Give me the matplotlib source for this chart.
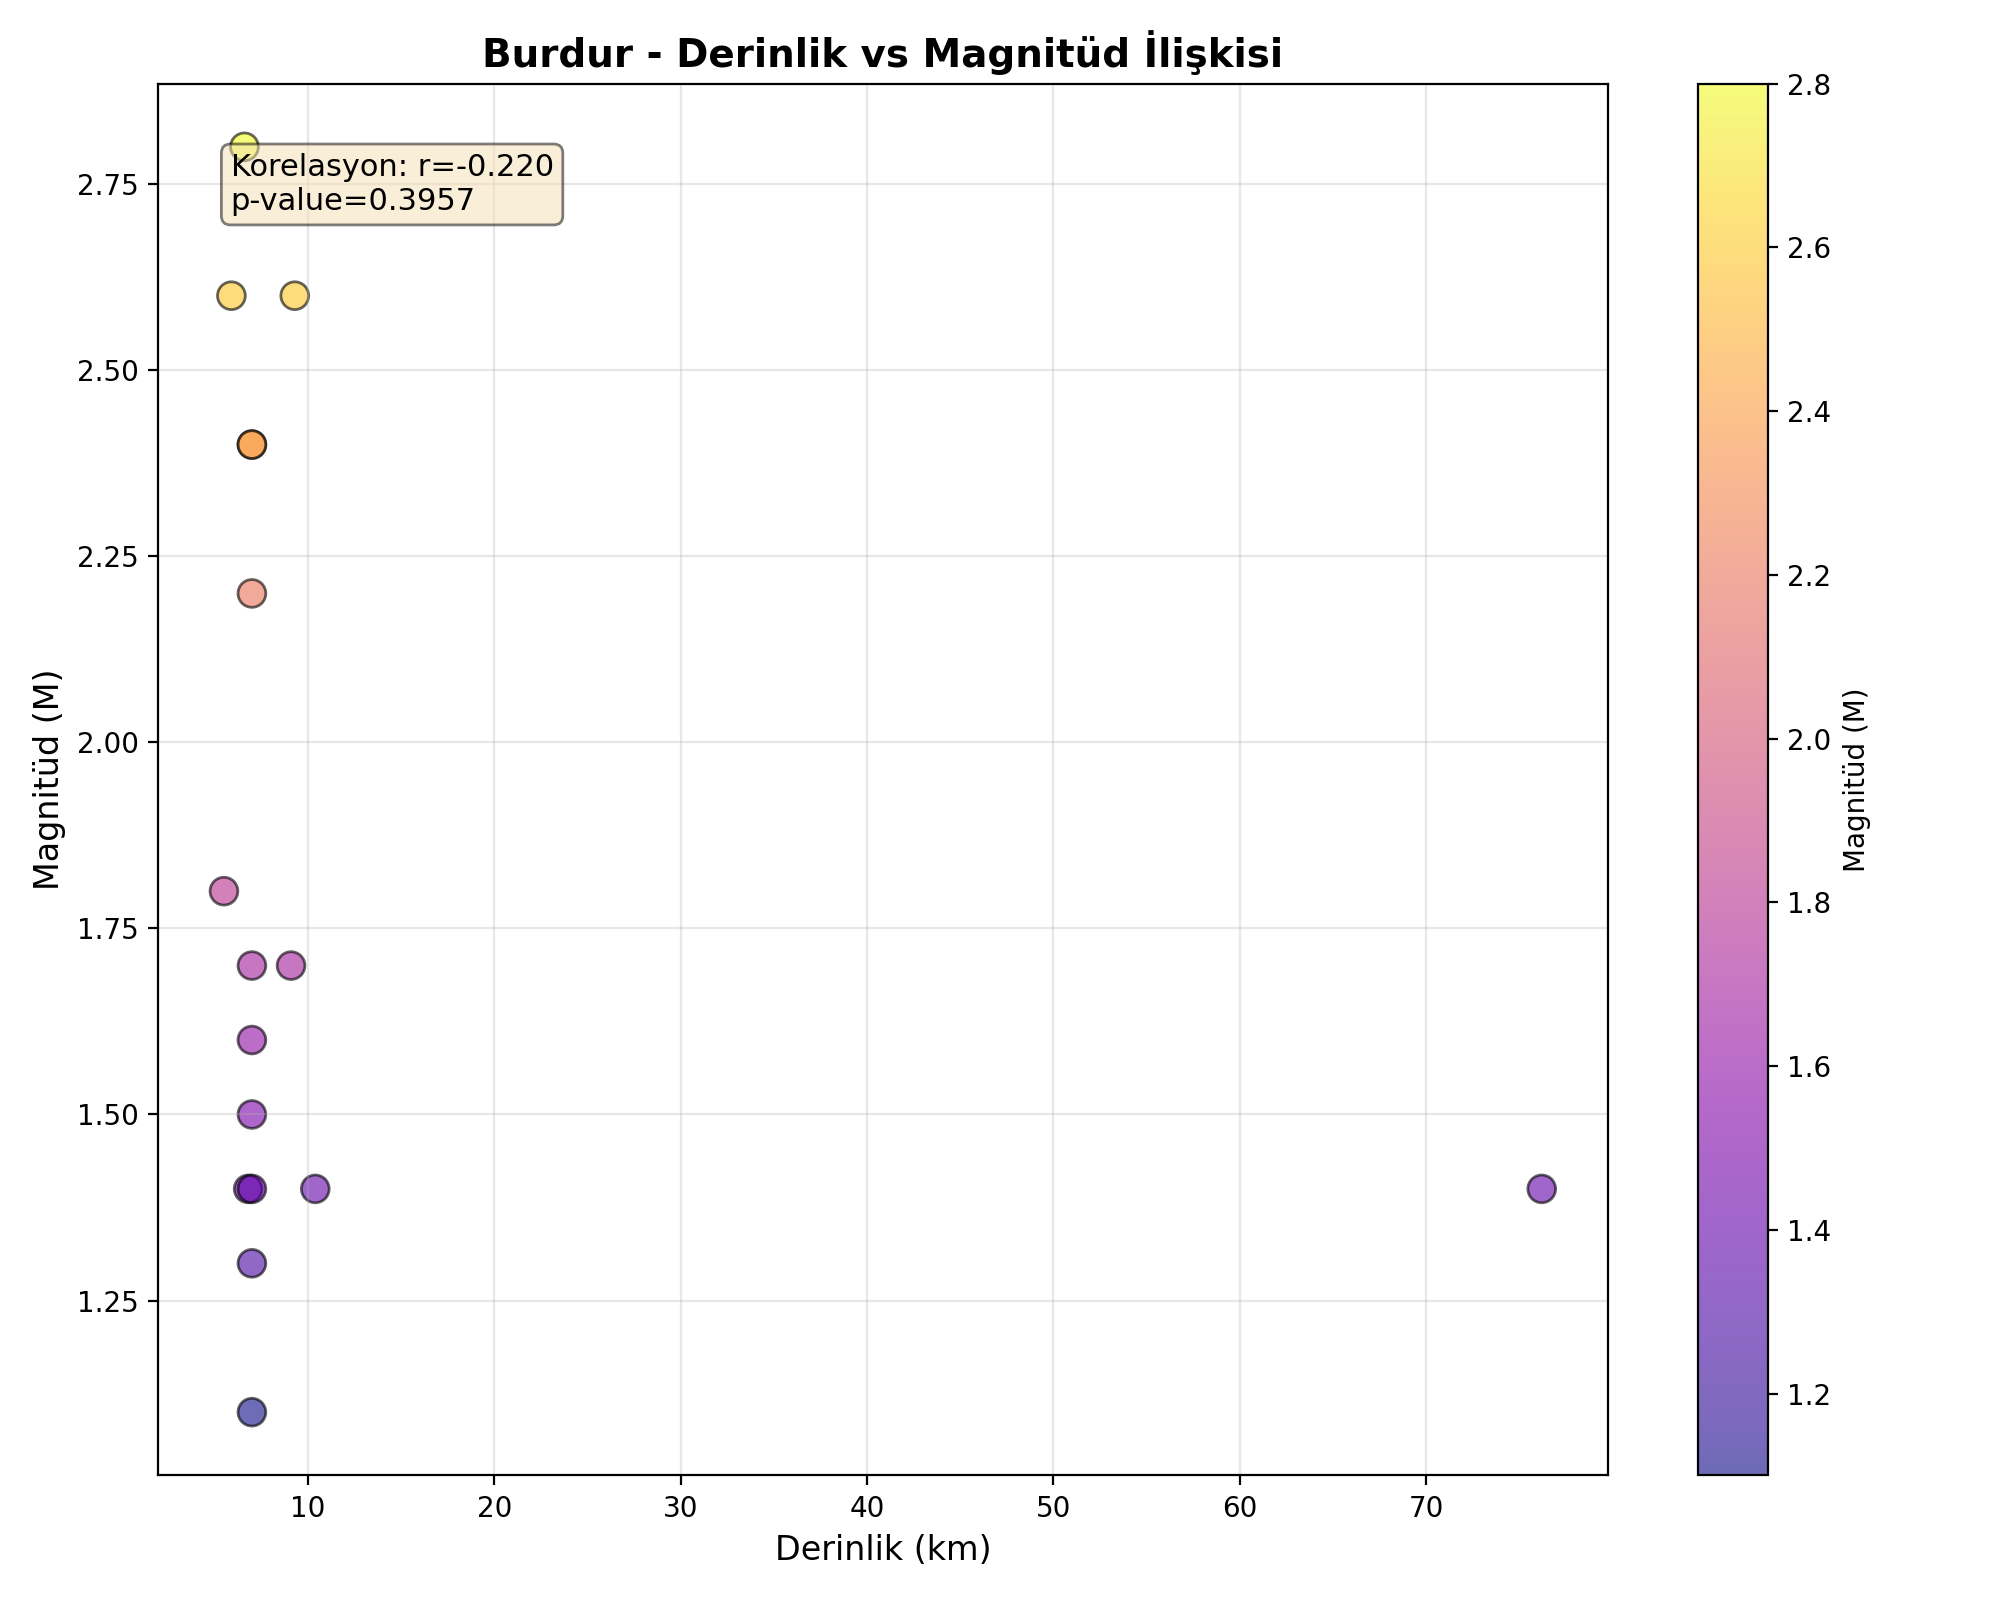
import matplotlib
matplotlib.use('Agg')
import matplotlib.pyplot as plt

# Burdur depremleri: derinlik (km) ve magnitud
derinlik = [6.6, 5.9, 9.3, 7.0, 7.0, 7.0, 5.5, 7.0, 9.1, 7.0, 7.0,
            6.8, 7.0, 10.4, 76.2, 7.0, 7.0]
magnitud = [2.8, 2.6, 2.6, 2.4, 2.4, 2.2, 1.8, 1.7, 1.7, 1.6, 1.5,
            1.4, 1.4, 1.4, 1.4, 1.3, 1.1]
r_text = 'Korelasyon: r=-0.220\np-value=0.3957'

fig, ax = plt.subplots(figsize=(10, 8))
sc = ax.scatter(derinlik, magnitud, c=magnitud, cmap='plasma', s=100,
                alpha=0.6, edgecolors='black', linewidth=1)
ax.set_xlabel('Derinlik (km)', fontsize=12)
ax.set_ylabel('Magnitüd (M)', fontsize=12)
ax.set_title('Burdur - Derinlik vs Magnitüd İlişkisi', fontsize=14, fontweight='bold')
ax.grid(True, alpha=0.3)
cbar = plt.colorbar(sc, ax=ax)
cbar.set_label('Magnitüd (M)')
ax.text(0.05, 0.95, r_text, transform=ax.transAxes, fontsize=11,
        verticalalignment='top',
        bbox=dict(boxstyle='round', facecolor='wheat', alpha=0.5))

plt.tight_layout()
plt.savefig('out.png', dpi=200)
